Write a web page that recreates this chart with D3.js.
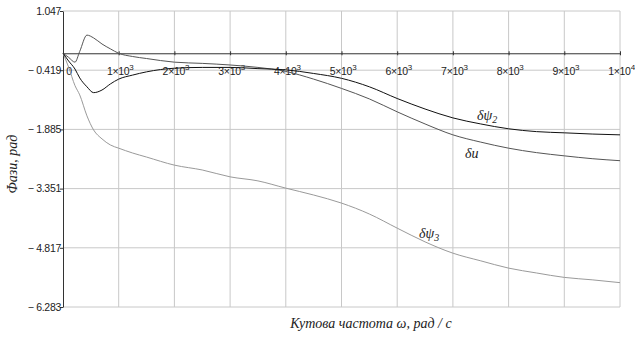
<!DOCTYPE html>
<html>
<head>
<meta charset="utf-8">
<script src="https://cdn.jsdelivr.net/npm/d3@7"></script>
<style>
  body { margin: 0; background: #fff; }
  svg { display: block; }
</style>
</head>
<body>
<script>
// frequencies, rad/s
const freq = [0, 100, 215, 300, 430, 550, 700, 850, 1000, 1250, 1500, 2000, 2500, 3000, 3500,
              4000, 4500, 5000, 5500, 6000, 6500, 7000, 7500, 8000, 8500, 9000, 9500, 10000];

// phase curves, rad
const dPsi2 = [0, -0.19, -0.39, -0.61, -0.83, -0.975, -0.91, -0.76, -0.64, -0.54, -0.46, -0.37, -0.35, -0.35, -0.38,
               -0.41, -0.50, -0.62, -0.83, -1.12, -1.38, -1.60, -1.75, -1.87, -1.94, -1.97, -2.00, -2.02];
const dU = [0, -0.10, -0.22, 0.045, 0.45, 0.38, 0.23, 0.11, 0.0, -0.08, -0.13, -0.22, -0.25, -0.29, -0.35,
            -0.45, -0.64, -0.87, -1.13, -1.45, -1.75, -2.02, -2.20, -2.35, -2.46, -2.54, -2.61, -2.66];
const dPsi3 = [0, -0.34, -0.80, -1.03, -1.55, -1.90, -2.12, -2.27, -2.35, -2.47, -2.57, -2.77, -2.89, -3.06, -3.16,
               -3.34, -3.51, -3.71, -3.98, -4.33, -4.67, -4.95, -5.14, -5.32, -5.44, -5.55, -5.61, -5.68];

const yTicks = [1.047, -0.419, -1.885, -3.351, -4.817, -6.283];
const xTicks = [0, 1000, 2000, 3000, 4000, 5000, 6000, 7000, 8000, 9000, 10000];

const width = 635, height = 338;
const margin = { top: 11, right: 15, bottom: 31, left: 63 };

const svg = d3.select('body').append('svg')
    .attr('width', width)
    .attr('height', height);

const x = d3.scaleLinear().domain([0, 10000]).range([margin.left, width - margin.right]);
const y = d3.scaleLinear().domain([-6.283, 1.047]).range([height - margin.bottom, margin.top]);

// grid
const grid = svg.append('g').attr('stroke', '#c8c8c8').attr('stroke-width', 1);
grid.selectAll('line.v').data(xTicks.slice(1)).join('line')
    .attr('x1', d => x(d)).attr('x2', d => x(d))
    .attr('y1', y(1.047)).attr('y2', y(-6.283));
grid.selectAll('line.h').data(yTicks).join('line')
    .attr('x1', x(0)).attr('x2', x(10000))
    .attr('y1', d => y(d)).attr('y2', d => y(d));

// y axis
const yAxis = svg.append('g')
    .attr('transform', `translate(${x(0)},0)`)
    .call(d3.axisLeft(y).tickValues(yTicks).tickSize(3).tickPadding(-1).tickSizeOuter(0)
        .tickFormat(d => (d < 0 ? '\u2212 ' : '') + Math.abs(d).toFixed(3)));
yAxis.select('.domain').attr('stroke', '#333');
yAxis.selectAll('line').attr('stroke', '#333');
yAxis.selectAll('text').attr('font-family', 'Liberation Sans, Arial, sans-serif')
    .attr('font-size', 10.5).attr('fill', '#222').attr('letter-spacing', -0.3);

// x axis on zero line
const xAxis = svg.append('g')
    .attr('transform', `translate(0,${y(0)})`)
    .call(d3.axisBottom(x).tickValues(xTicks).tickSize(2).tickSizeOuter(0).tickFormat(''));
xAxis.select('.domain').attr('stroke', '#333');
xAxis.selectAll('.tick line').attr('y1', -2).attr('stroke', '#333');

const labels = svg.append('g')
    .attr('font-family', 'Liberation Sans, Arial, sans-serif')
    .attr('fill', '#222');
xTicks.forEach(d => {
    const t = labels.append('text')
        .attr('y', y(0) + 22)
        .attr('font-size', 10.5)
        .attr('letter-spacing', -0.3);
    if (d === 0) {
        t.attr('x', x(d) + 6).attr('text-anchor', 'middle').text('0');
    } else {
        const p = Math.floor(Math.log10(d));
        t.attr('x', x(d) + 1.5).attr('text-anchor', 'middle');
        t.append('tspan').text(`${d / Math.pow(10, p)}\u00d710`);
        t.append('tspan').attr('dy', -5).attr('font-size', 8).text(p);
    }
});

// curves
const line = vals => d3.line()
    .x((d, i) => x(freq[i]))
    .y(d => y(d))
    .curve(d3.curveMonotoneX)(vals);

svg.append('path').attr('d', line(dPsi3)).attr('fill', 'none').attr('stroke', '#9a9a9a').attr('stroke-width', 1);
svg.append('path').attr('d', line(dU)).attr('fill', 'none').attr('stroke', '#555').attr('stroke-width', 1);
svg.append('path').attr('d', line(dPsi2)).attr('fill', 'none').attr('stroke', '#111').attr('stroke-width', 1);

// curve labels
const serif = 'Liberation Serif, Times New Roman, serif';
function curveLabel(px, py, main, sub) {
    const t = svg.append('text').attr('x', px).attr('y', py)
        .attr('font-family', serif).attr('font-style', 'italic')
        .attr('font-size', 14).attr('fill', '#222');
    t.append('tspan').text(main);
    if (sub) t.append('tspan').attr('dy', 3).attr('font-size', 10).text(sub);
}
curveLabel(477, 120, '\u03b4\u03c8', '2');
curveLabel(465, 158, '\u03b4u');
curveLabel(419, 238, '\u03b4\u03c8', '3');

// axis titles
svg.append('text')
    .attr('transform', `translate(17,${(y(1.047) + y(-6.283)) / 2 + 5}) rotate(-90)`)
    .attr('text-anchor', 'middle')
    .attr('font-family', serif).attr('font-style', 'italic')
    .attr('font-size', 14).attr('fill', '#222')
    .text('Фази, рад');

svg.append('text')
    .attr('x', 371).attr('y', 328)
    .attr('text-anchor', 'middle')
    .attr('font-family', serif).attr('font-style', 'italic')
    .attr('font-size', 14).attr('fill', '#222')
    .text('Кутова частота \u03c9, рад / с');
</script>
</body>
</html>
